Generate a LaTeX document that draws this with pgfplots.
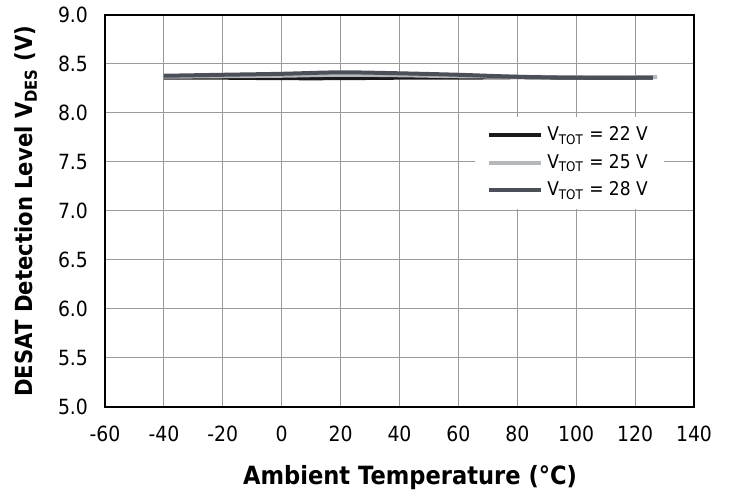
\documentclass[border=0pt]{standalone}
\usepackage{fontspec}
\setmainfont{DejaVu Sans}[FakeStretch=0.9]
\usepackage{pgfplots}
\pgfplotsset{compat=1.18}

\definecolor{vA}{HTML}{1A1A1A}
\definecolor{vB}{HTML}{B5B8BA}
\definecolor{vC}{HTML}{4B5058}
\definecolor{gridc}{HTML}{9A9A9A}

\begin{document}
\begin{tikzpicture}
\useasboundingbox (-52.5bp,-46bp) rectangle (312.5bp,203.5bp);
\begin{axis}[
    scale only axis,
    width=294.5bp, height=196bp,
    xmin=-60, xmax=140, ymin=5, ymax=9,
    xtick={-60,-40,...,140},
    ytick={5,5.5,...,9},
    grid=major,
    major grid style={gridc, line width=0.5bp},
    major tick length=0pt,
    axis line style={black, line width=0.8bp},
    /pgf/number format/assume math mode=true,
    yticklabel style={/pgf/number format/fixed, /pgf/number format/fixed zerofill,
        /pgf/number format/precision=1, xshift=-5bp},
    ticklabel style={font=\fontsize{10.5}{12}\selectfont},
    xticklabel style={yshift=-6bp},
    xlabel={Ambient Temperature (°C)},
    ylabel={DESAT Detection Level V\textsubscript{DES} (V)},
    xlabel style={font=\bfseries\fontsize{12.6}{14}\selectfont,
        at={(axis description cs:0.518,-0.181)}, anchor=center},
    ylabel style={font=\bfseries\fontsize{11.8}{14}\selectfont,
        at={(axis description cs:-0.134,0.5)}, anchor=center},
    legend cell align=left,
    legend style={draw=none, fill=white, at={(0.628,0.742)}, anchor=north west,
        font=\fontsize{9.5}{11}\selectfont, row sep=1.3bp, inner xsep=6bp, inner ysep=3bp},
    legend image code/.code={\draw[#1] (0bp,0bp) -- (23.5bp,0bp);
        \path (0bp,0bp) -- (26bp,0bp);},
    every axis plot/.append style={line width=2bp, smooth},
]
\addplot[vA] coordinates {(-40,8.36) (-20,8.36) (0,8.355) (20,8.355) (40,8.36) (60,8.36) (80,8.365) (100,8.36) (126,8.36)};
\addlegendentry{V\textsubscript{TOT} = 22 V}
\addplot[vB] coordinates {(-40,8.37) (-20,8.375) (0,8.38) (20,8.39) (40,8.385) (60,8.375) (80,8.37) (100,8.365) (127.5,8.365)};
\addlegendentry{V\textsubscript{TOT} = 25 V}
\addplot[vC] coordinates {(-40,8.38) (-20,8.39) (0,8.40) (20,8.415) (40,8.405) (60,8.39) (80,8.37) (100,8.36) (126,8.36)};
\addlegendentry{V\textsubscript{TOT} = 28 V}
\node[rotate=90, anchor=north east, font=\fontsize{7}{8}\selectfont, inner sep=0pt]
    at ([xshift=4.5bp]rel axis cs:1,1) {PI-7927-040116};
\end{axis}
\end{tikzpicture}
\end{document}
